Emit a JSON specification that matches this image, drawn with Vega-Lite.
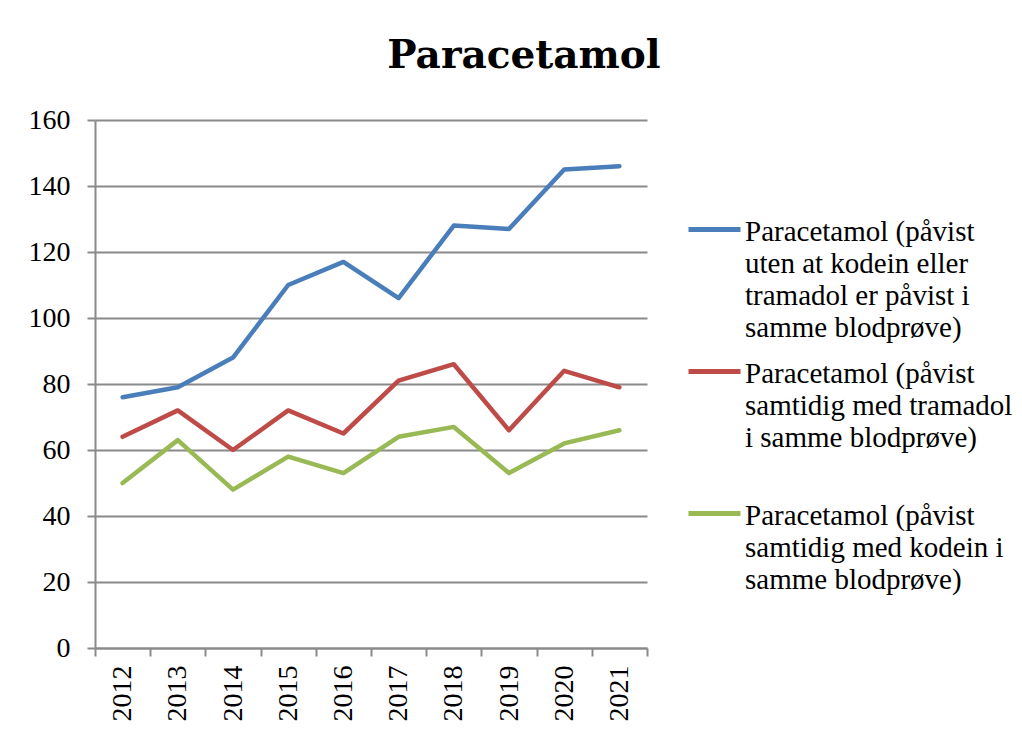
{
  "$schema": "https://vega.github.io/schema/vega-lite/v6.json",
  "width": 552,
  "height": 528,
  "autosize": {"type": "none"},
  "padding": {"left": 95, "top": 120, "right": 375, "bottom": 87},
  "background": "white",
  "title": {
    "text": "Paracetamol",
    "font": "DejaVu Serif",
    "fontWeight": "bold",
    "fontSize": 39,
    "color": "black",
    "anchor": "middle",
    "frame": "group",
    "dx": 153,
    "offset": 30
  },
  "data": {
    "values": [
      {"year": "2012", "serie": "Paracetamol (påvist\nuten at kodein eller\ntramadol er påvist i\nsamme blodprøve)", "value": 76},
      {"year": "2013", "serie": "Paracetamol (påvist\nuten at kodein eller\ntramadol er påvist i\nsamme blodprøve)", "value": 79},
      {"year": "2014", "serie": "Paracetamol (påvist\nuten at kodein eller\ntramadol er påvist i\nsamme blodprøve)", "value": 88},
      {"year": "2015", "serie": "Paracetamol (påvist\nuten at kodein eller\ntramadol er påvist i\nsamme blodprøve)", "value": 110},
      {"year": "2016", "serie": "Paracetamol (påvist\nuten at kodein eller\ntramadol er påvist i\nsamme blodprøve)", "value": 117},
      {"year": "2017", "serie": "Paracetamol (påvist\nuten at kodein eller\ntramadol er påvist i\nsamme blodprøve)", "value": 106},
      {"year": "2018", "serie": "Paracetamol (påvist\nuten at kodein eller\ntramadol er påvist i\nsamme blodprøve)", "value": 128},
      {"year": "2019", "serie": "Paracetamol (påvist\nuten at kodein eller\ntramadol er påvist i\nsamme blodprøve)", "value": 127},
      {"year": "2020", "serie": "Paracetamol (påvist\nuten at kodein eller\ntramadol er påvist i\nsamme blodprøve)", "value": 145},
      {"year": "2021", "serie": "Paracetamol (påvist\nuten at kodein eller\ntramadol er påvist i\nsamme blodprøve)", "value": 146},
      {"year": "2012", "serie": "Paracetamol (påvist\nsamtidig med tramadol\ni samme blodprøve)", "value": 64},
      {"year": "2013", "serie": "Paracetamol (påvist\nsamtidig med tramadol\ni samme blodprøve)", "value": 72},
      {"year": "2014", "serie": "Paracetamol (påvist\nsamtidig med tramadol\ni samme blodprøve)", "value": 60},
      {"year": "2015", "serie": "Paracetamol (påvist\nsamtidig med tramadol\ni samme blodprøve)", "value": 72},
      {"year": "2016", "serie": "Paracetamol (påvist\nsamtidig med tramadol\ni samme blodprøve)", "value": 65},
      {"year": "2017", "serie": "Paracetamol (påvist\nsamtidig med tramadol\ni samme blodprøve)", "value": 81},
      {"year": "2018", "serie": "Paracetamol (påvist\nsamtidig med tramadol\ni samme blodprøve)", "value": 86},
      {"year": "2019", "serie": "Paracetamol (påvist\nsamtidig med tramadol\ni samme blodprøve)", "value": 66},
      {"year": "2020", "serie": "Paracetamol (påvist\nsamtidig med tramadol\ni samme blodprøve)", "value": 84},
      {"year": "2021", "serie": "Paracetamol (påvist\nsamtidig med tramadol\ni samme blodprøve)", "value": 79},
      {"year": "2012", "serie": "Paracetamol (påvist\nsamtidig med kodein i\nsamme blodprøve)", "value": 50},
      {"year": "2013", "serie": "Paracetamol (påvist\nsamtidig med kodein i\nsamme blodprøve)", "value": 63},
      {"year": "2014", "serie": "Paracetamol (påvist\nsamtidig med kodein i\nsamme blodprøve)", "value": 48},
      {"year": "2015", "serie": "Paracetamol (påvist\nsamtidig med kodein i\nsamme blodprøve)", "value": 58},
      {"year": "2016", "serie": "Paracetamol (påvist\nsamtidig med kodein i\nsamme blodprøve)", "value": 53},
      {"year": "2017", "serie": "Paracetamol (påvist\nsamtidig med kodein i\nsamme blodprøve)", "value": 64},
      {"year": "2018", "serie": "Paracetamol (påvist\nsamtidig med kodein i\nsamme blodprøve)", "value": 67},
      {"year": "2019", "serie": "Paracetamol (påvist\nsamtidig med kodein i\nsamme blodprøve)", "value": 53},
      {"year": "2020", "serie": "Paracetamol (påvist\nsamtidig med kodein i\nsamme blodprøve)", "value": 62},
      {"year": "2021", "serie": "Paracetamol (påvist\nsamtidig med kodein i\nsamme blodprøve)", "value": 66}
    ]
  },
  "mark": {"type": "line", "strokeWidth": 4.5, "strokeCap": "round", "strokeJoin": "round"},
  "encoding": {
    "x": {
      "field": "year",
      "type": "ordinal",
      "bandPosition": 0.5,
      "scale": {"type": "band", "paddingInner": 0, "paddingOuter": 0},
      "axis": {
        "title": null,
        "tickBand": "extent",
        "labelAngle": -90,
        "labelAlign": "right",
        "labelBaseline": "middle",
        "labelPadding": 9,
        "labelOffset": 12,
        "tickSize": 8,
        "grid": false
      }
    },
    "y": {
      "field": "value",
      "type": "quantitative",
      "scale": {"domain": [0, 160], "nice": false},
      "axis": {
        "title": null,
        "values": [0, 20, 40, 60, 80, 100, 120, 140, 160],
        "tickSize": 8,
        "labelPadding": 17,
        "labelOffset": 12,
        "grid": true
      }
    },
    "color": {
      "field": "serie",
      "type": "nominal",
      "scale": {
        "domain": [
          "Paracetamol (påvist\nuten at kodein eller\ntramadol er påvist i\nsamme blodprøve)",
          "Paracetamol (påvist\nsamtidig med tramadol\ni samme blodprøve)",
          "Paracetamol (påvist\nsamtidig med kodein i\nsamme blodprøve)"
        ],
        "range": ["#4A7EBB", "#BE4B48", "#98B954"]
      },
      "legend": {
        "title": null,
        "orient": "none",
        "legendX": 591,
        "legendY": 81,
        "symbolType": "stroke",
        "symbolSize": 2704,
        "symbolStrokeWidth": 5,
        "labelOffset": 2,
        "labelLimit": 400,
        "labelBaseline": "top",
        "labelFontSize": 29,
        "labelExpr": "split(datum.label, '\\n')",
        "gridAlign": "all",
        "rowPadding": -14
      }
    }
  },
  "config": {
    "view": {"stroke": null},
    "font": "Liberation Serif",
    "axis": {
      "labelFont": "Liberation Serif",
      "labelFontSize": 28,
      "labelColor": "black",
      "domainColor": "#8a8a8a",
      "domainWidth": 2,
      "tickColor": "#8a8a8a",
      "tickWidth": 2,
      "gridColor": "#8a8a8a",
      "gridWidth": 2,
      "gridOpacity": 1
    },
    "legend": {
      "labelFont": "Liberation Serif",
      "labelFontSize": 29,
      "labelColor": "black"
    },
    "style": {
      "guide-label": {"lineHeight": 32, "dy": -12}
    }
  }
}
